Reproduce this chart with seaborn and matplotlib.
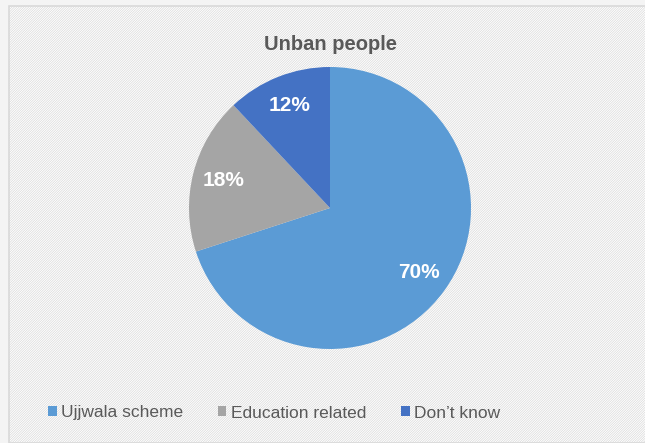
import matplotlib
matplotlib.use("Agg")
import matplotlib.pyplot as plt
import seaborn as sns
from matplotlib.patches import Rectangle, Patch

categories = ["Ujjwala scheme", "Education related", "Don\u2019t know"]
shares = [70, 18, 12]
colors = ["#5B9BD5", "#A5A5A5", "#4472C4"]
title = "Unban people"

sns.set_theme(style="white")
plt.rcParams['font.family'] = ['Liberation Sans', 'DejaVu Sans']
plt.rcParams['hatch.linewidth'] = 0.5
plt.rcParams['hatch.color'] = '#f2f2f2'

fig = plt.figure(figsize=(6.45, 4.43), dpi=100)
fig.patch.set_facecolor('#f4f4f4')

# chart area with the fine diagonal stripes and light border
bg = Rectangle((9 / 645, 0), 1.0, 437 / 443, transform=fig.transFigure,
               facecolor='white', edgecolor='#d9d9d9', linewidth=1.2,
               hatch='/' * 14, zorder=-5)
fig.patches.append(bg)

ax = fig.add_axes([(330 - 141) / 645, (443 - 208 - 141) / 443, 282 / 645, 282 / 443])
ax.set_zorder(2)
ax.set_facecolor('none')
wedges, texts, autotexts = ax.pie(
    shares, colors=sns.color_palette(colors), startangle=90, counterclock=False,
    autopct=lambda p: f"{p:.0f}%", pctdistance=0.78,
    wedgeprops=dict(linewidth=0),
    textprops=dict(color='white', fontsize=15, fontweight='bold'))
ax.set_xlim(-1, 1)
ax.set_ylim(-1, 1)
ax.set_aspect('equal')

fig.text(330 / 645, 1 - 45 / 443, title, ha='center', va='center',
         fontsize=14.5, fontweight='bold', color='#595959')

handles = [Patch(facecolor=c, edgecolor='none') for c in colors]
leg = fig.legend(handles, categories, loc='center', bbox_to_anchor=(274 / 645, 1 - 413 / 443),
                 ncol=3, frameon=False, fontsize=12.5, handlelength=0.5, handleheight=0.5,
                 handletextpad=0.25, columnspacing=2.0)
for t in leg.get_texts():
    t.set_color('#595959')

fig.savefig("out.png", dpi=100)
